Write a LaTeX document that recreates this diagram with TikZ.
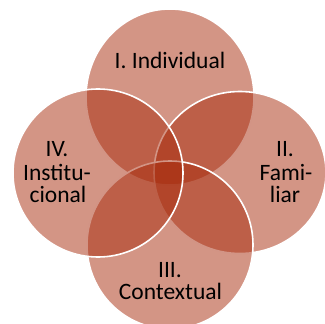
\documentclass[tikz,border=0pt]{standalone}
\usepackage{fontspec}
\setmainfont{Carlito}
\usetikzlibrary{shapes.geometric}
\definecolor{vennfill}{RGB}{167,43,12}
\tikzset{
  venn/.style={ellipse, inner sep=0pt, fill=vennfill, fill opacity=0.5, draw=white, line width=1.6pt},
  lbl/.style={anchor=base, inner sep=0pt, text=black, font=\fontsize{23.5}{23.5}\selectfont}
}
\begin{document}
\begin{tikzpicture}[x=1pt, y=-1pt]
\useasboundingbox (0,0) rectangle (325,324);
\node[venn, minimum width=168pt, minimum height=176pt] (ctop) at (170,97) {};
\node[venn, minimum width=172pt, minimum height=162pt] (cright) at (240,172.5) {};
\node[venn, minimum width=166pt, minimum height=168pt] (cbottom) at (170,245) {};
\node[venn, minimum width=170pt, minimum height=168pt] (cleft) at (98,173) {};
% labels
\node[lbl] (t1) at (170,68) {I. Individual};
\node[lbl] (t2a) at (285,157) {II.};
\node[lbl] (t2b) at (286,180) {Fami-};
\node[lbl] (t2c) at (285,203) {liar};
\node[lbl] (t3a) at (170,277) {III.};
\node[lbl] (t3b) at (170.5,299.5) {Contextual};
\node[lbl] (t4a) at (57,157) {IV.};
\node[lbl] (t4b) at (57,180) {Institu-};
\node[lbl] (t4c) at (58,203) {cional};
\end{tikzpicture}
\end{document}
